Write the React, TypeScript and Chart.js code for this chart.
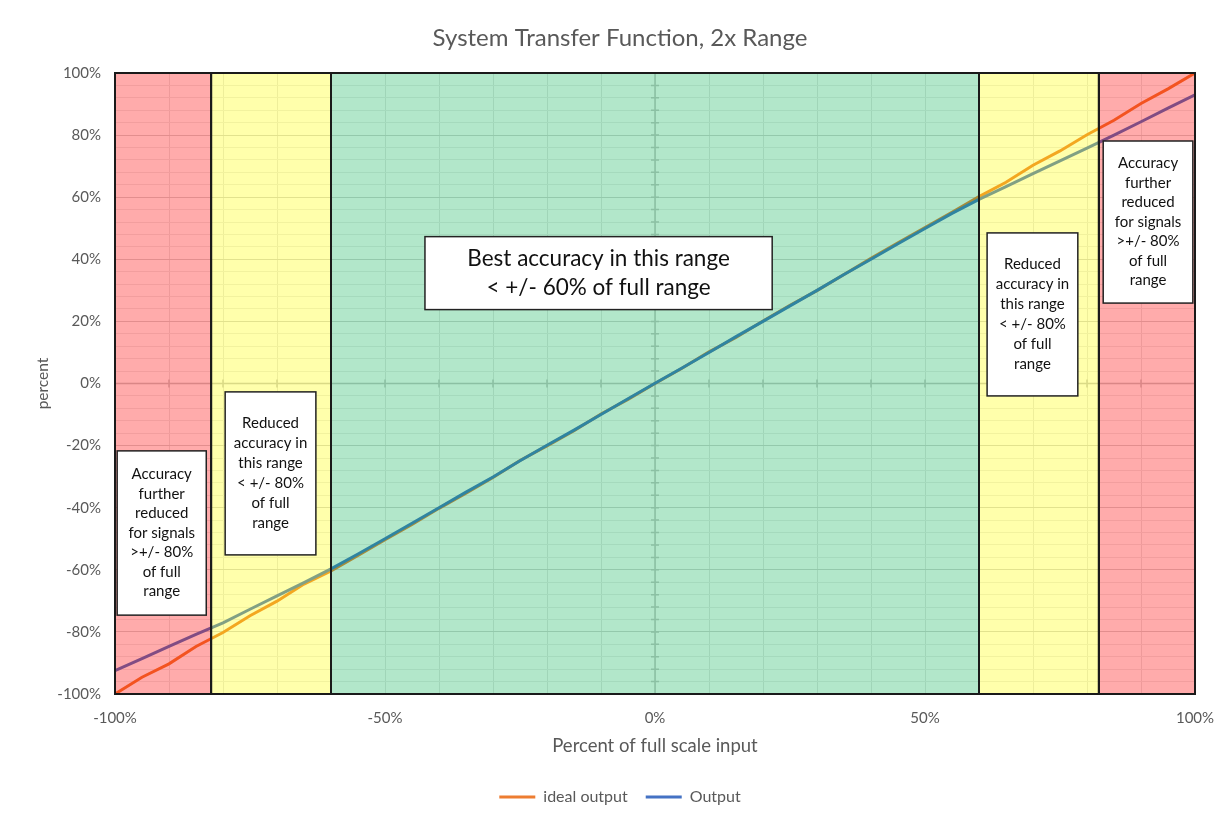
import React, { useEffect, useRef } from 'react';
import { Chart, registerables } from 'chart.js';

Chart.register(...registerables);

const chartTitle = 'System Transfer Function, 2x Range';
const xAxisTitle = 'Percent of full scale input';
const yAxisTitle = 'percent';
const seriesNames = ['ideal output', 'Output'];

// input, percent of full scale
const inputPct = [
  -100, -95, -90, -85, -80, -75, -70, -65, -60, -55, -50, -45, -40, -35, -30, -25, -20, -15, -10, -5, 0,
  5, 10, 15, 20, 25, 30, 35, 40, 45, 50, 55, 60, 65, 70, 75, 80, 85, 90, 95, 100,
];
const idealOutput = [
  -100, -94.6, -90.3, -84.7, -80.2, -74.8, -70.1, -64.6, -60.4, -55.4, -50.3, -45.4, -40.2, -35.3, -30.3, -24.8,
  -20.1, -15.2, -9.8, -5.1, 0, 4.9, 10.2, 14.8, 20.1, 25.2, 29.9, 35.1, 40.3, 45.3, 50.2, 55.1, 60.2, 64.8, 70.3,
  74.9, 80.1, 84.8, 90.2, 94.9, 100,
];
const measuredOutput = [
  -92.5, -88.6, -84.7, -80.8, -77.1, -72.7, -68.4, -64.1, -59.7, -54.9, -50.0, -45.0, -40.0, -35.0, -30.1, -24.9,
  -19.9, -15.0, -10.0, -4.9, 0.1, 5.0, 10.0, 15.1, 20.0, 25.0, 30.0, 35.1, 40.0, 45.0, 49.9, 54.8, 59.3, 63.4,
  67.6, 71.7, 75.8, 80.0, 84.3, 88.7, 93.0,
];

// accuracy zones (input %)
const zoneEdges = [-100, -82.2, -60, 60, 82.2, 100];
const zoneKinds = ['red', 'yellow', 'green', 'yellow', 'red'];

// text notes
const noteTexts = [
  ['Best accuracy in this range', '< +/- 60% of full range'],
  ['Accuracy', 'further', 'reduced', 'for signals', '>+/- 80%', 'of full', 'range'],
  ['Reduced', 'accuracy in', 'this range', '< +/- 80%', 'of full', 'range'],
  ['Reduced', 'accuracy in', 'this range', '< +/- 80%', 'of full', 'range'],
  ['Accuracy', 'further', 'reduced', 'for signals', '>+/- 80%', 'of full', 'range'],
];

// ---- layout / style (not data) ----
const W = 1218;
const H = 818;
const AREA = { left: 115, right: 1195, top: 73, bottom: 694 };
const PAD_LEFT = 22;
const PAD_BOTTOM = 3;
const FONT = 'Lato, "Open Sans", sans-serif';
const TEXT_GREY = '#595959';
const ORANGE = '#ED7D31';
const BLUE = '#4472C4';
const ZONE_FILL: Record<string, string> = {
  red: 'rgba(255,0,0,0.33)',
  yellow: 'rgba(255,255,0,0.33)',
  green: 'rgba(0,176,80,0.30)',
};
// note boxes in data units: [x0, x1], [yTop, yBottom], font size, line height
const noteBoxes = [
  { x: [-42.6, 21.7], y: [47.3, 23.8], size: 22.5, lh: 29 },
  { x: [-99.6, -83.1], y: [-21.7, -74.6], size: 15, lh: 19.5 },
  { x: [-79.6, -62.8], y: [-2.7, -55.2], size: 15, lh: 20 },
  { x: [61.5, 78.3], y: [48.5, -4.0], size: 15, lh: 20 },
  { x: [83.0, 99.6], y: [78.1, 25.9], size: 15, lh: 19.5 },
];

const zeroAxesPlugin = {
  id: 'zeroAxes',
  beforeDatasetsDraw(chart: any) {
    const { ctx, scales } = chart;
    const xs = scales.x;
    const ys = scales.y;
    const x0 = xs.getPixelForValue(0);
    const y0 = ys.getPixelForValue(0);
    ctx.save();
    ctx.strokeStyle = '#c8c8c8';
    ctx.lineWidth = 1.5;
    ctx.beginPath();
    ctx.moveTo(xs.left, y0);
    ctx.lineTo(xs.right, y0);
    ctx.moveTo(x0, ys.top);
    ctx.lineTo(x0, ys.bottom);
    for (const t of xs.ticks) {
      const px = xs.getPixelForValue(t.value);
      ctx.moveTo(px, y0 - 4);
      ctx.lineTo(px, y0 + 4);
    }
    for (const t of ys.ticks) {
      const py = ys.getPixelForValue(t.value);
      ctx.moveTo(x0 - 4, py);
      ctx.lineTo(x0 + 4, py);
    }
    ctx.stroke();
    ctx.restore();
  },
};

const zonesPlugin = {
  id: 'zones',
  afterDatasetsDraw(chart: any) {
    const { ctx, scales } = chart;
    const xs = scales.x;
    const ys = scales.y;
    const top = ys.getPixelForValue(100);
    const bottom = ys.getPixelForValue(-100);
    ctx.save();
    for (let i = 0; i < zoneKinds.length; i++) {
      const a = xs.getPixelForValue(zoneEdges[i]);
      const b = xs.getPixelForValue(zoneEdges[i + 1]);
      ctx.fillStyle = ZONE_FILL[zoneKinds[i]];
      ctx.fillRect(a, top, b - a, bottom - top);
    }
    ctx.strokeStyle = '#1a1a1a';
    ctx.lineWidth = 2;
    for (let i = 0; i < zoneKinds.length; i++) {
      const a = xs.getPixelForValue(zoneEdges[i]);
      const b = xs.getPixelForValue(zoneEdges[i + 1]);
      ctx.strokeRect(a, top, b - a, bottom - top);
    }
    noteBoxes.forEach((nb, i) => {
      const l = xs.getPixelForValue(nb.x[0]);
      const r = xs.getPixelForValue(nb.x[1]);
      const t = ys.getPixelForValue(nb.y[0]);
      const bt = ys.getPixelForValue(nb.y[1]);
      ctx.fillStyle = '#ffffff';
      ctx.fillRect(l, t, r - l, bt - t);
      ctx.strokeStyle = '#222222';
      ctx.lineWidth = 1.5;
      ctx.strokeRect(l, t, r - l, bt - t);
      const lines = noteTexts[i];
      ctx.fillStyle = '#111111';
      ctx.font = `${nb.size}px ${FONT}`;
      ctx.textAlign = 'center';
      ctx.textBaseline = 'middle';
      const cx = (l + r) / 2;
      const cy = (t + bt) / 2;
      const start = cy - ((lines.length - 1) * nb.lh) / 2;
      lines.forEach((s, k) => ctx.fillText(s, cx, start + k * nb.lh));
    });
    ctx.restore();
  },
};

export default function App() {
  const ref = useRef<HTMLCanvasElement | null>(null);

  useEffect(() => {
    if (!ref.current) return;
    const toPts = (ys: number[]) => inputPct.map((x, i) => ({ x, y: ys[i] }));
    const chart = new Chart(ref.current, {
      type: 'scatter',
      data: {
        datasets: [
          {
            label: seriesNames[0],
            data: toPts(idealOutput),
            showLine: true,
            borderColor: ORANGE,
            backgroundColor: ORANGE,
            borderWidth: 3,
            pointRadius: 0,
            order: 2,
          },
          {
            label: seriesNames[1],
            data: toPts(measuredOutput),
            showLine: true,
            borderColor: BLUE,
            backgroundColor: BLUE,
            borderWidth: 3,
            pointRadius: 0,
            order: 1,
          },
        ],
      },
      options: {
        animation: false,
        responsive: true,
        maintainAspectRatio: false,
        layout: { padding: { left: PAD_LEFT, right: 0, top: 0, bottom: PAD_BOTTOM } },
        plugins: {
          title: {
            display: true,
            text: chartTitle,
            color: TEXT_GREY,
            font: { family: FONT, size: 24, weight: 'normal' },
            padding: { top: 23.6, bottom: AREA.top - 23.6 - 28.8 },
          },
          legend: {
            position: 'bottom',
            labels: {
              color: TEXT_GREY,
              font: { family: FONT, size: 16 },
              usePointStyle: true,
              pointStyle: 'line',
              pointStyleWidth: 36,
              padding: 18,
              sort: (a: any, b: any) => a.datasetIndex - b.datasetIndex,
            },
          },
          tooltip: { enabled: false },
        },
        scales: {
          x: {
            type: 'linear',
            min: -100,
            max: 100,
            afterFit: (s: any) => {
              const lh = s.chart.legend ? s.chart.legend.height : 44;
              s.height = H - PAD_BOTTOM - lh - AREA.bottom;
              s.paddingLeft = 0;
              s.paddingRight = W - AREA.right;
            },
            ticks: {
              stepSize: 10,
              autoSkip: false,
              maxRotation: 0,
              padding: 15,
              color: TEXT_GREY,
              font: { family: FONT, size: 15 },
              callback: (v: any) => (Number(v) % 50 === 0 ? `${v}%` : ''),
            },
            grid: { color: '#e6e6e6', lineWidth: 1, drawTicks: false },
            border: { display: false },
            title: {
              display: true,
              text: xAxisTitle,
              color: TEXT_GREY,
              font: { family: FONT, size: 18.5 },
              padding: { top: 4, bottom: 14 },
            },
          },
          y: {
            type: 'linear',
            min: -100,
            max: 100,
            afterFit: (s: any) => {
              s.width = AREA.left - PAD_LEFT;
              s.paddingTop = 0;
              s.paddingBottom = 0;
            },
            ticks: {
              stepSize: 4,
              autoSkip: false,
              padding: 14,
              color: TEXT_GREY,
              font: { family: FONT, size: 15 },
              callback: (v: any) => (Number(v) % 20 === 0 ? `${v}%` : ''),
            },
            grid: {
              color: (c: any) => (c.tick && c.tick.value % 20 === 0 ? '#d4d4d4' : '#ececec'),
              lineWidth: 1,
              drawTicks: false,
            },
            border: { display: false },
            title: {
              display: true,
              text: yAxisTitle,
              color: TEXT_GREY,
              font: { family: FONT, size: 15.5 },
              padding: { top: 34 - PAD_LEFT, bottom: 4 },
            },
          },
        },
      },
      plugins: [zeroAxesPlugin, zonesPlugin],
    });
    return () => chart.destroy();
  }, []);

  return (
    <div style={{ position: 'fixed', left: 0, top: 0, width: W, height: H, background: '#fff' }}>
      <canvas ref={ref} />
    </div>
  );
}
